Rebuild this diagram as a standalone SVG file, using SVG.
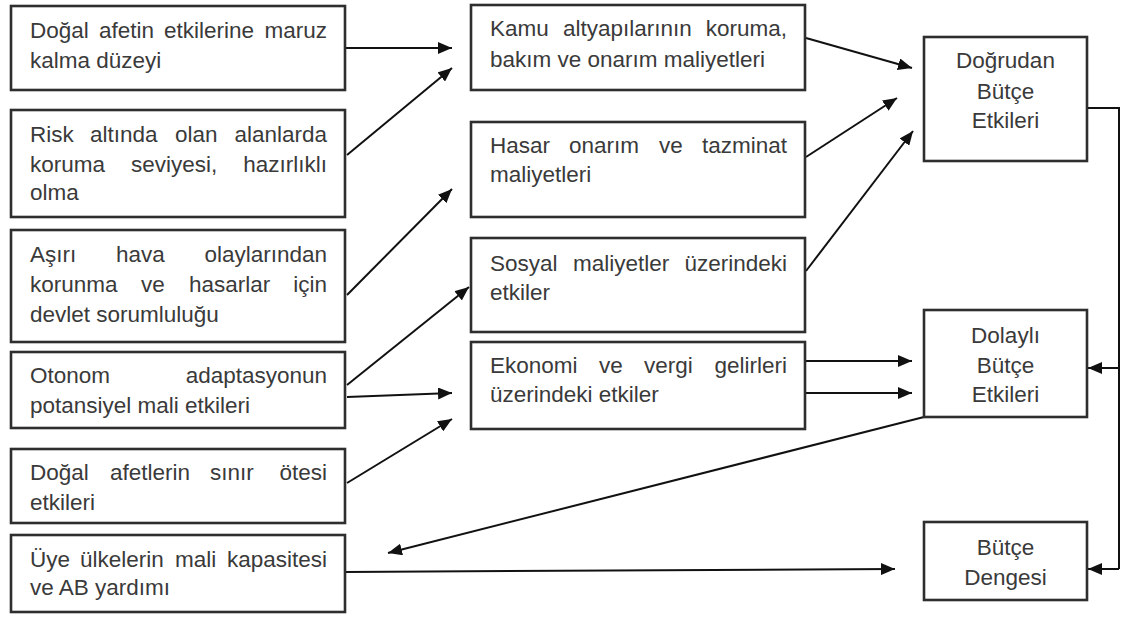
<svg xmlns="http://www.w3.org/2000/svg" width="1121" height="617" viewBox="0 0 1121 617">
<style>
.box{fill:#fff;stroke:#2e2e2e;stroke-width:2.6}
.t{font-family:"Liberation Sans",Arial,sans-serif;font-size:22.5px;fill:#3a3a3a}
.c{text-anchor:middle}
.e{text-anchor:end}
.ln{fill:none;stroke:#111;stroke-width:2}
</style>
<defs>
<marker id="ah" markerUnits="userSpaceOnUse" markerWidth="15" markerHeight="12" refX="14" refY="6" orient="auto">
<path d="M0,0 L14,6 L0,12 z" fill="#111"/>
</marker>
</defs>
<rect width="1121" height="617" fill="#fff"/>

<g id="connectors">
<line class="ln" x1="345" y1="48" x2="452" y2="48" marker-end="url(#ah)"/>
<line class="ln" x1="347" y1="155" x2="452" y2="68" marker-end="url(#ah)"/>
<line class="ln" x1="347" y1="295" x2="452" y2="189" marker-end="url(#ah)"/>
<line class="ln" x1="347" y1="385" x2="469" y2="287" marker-end="url(#ah)"/>
<line class="ln" x1="347" y1="397" x2="452" y2="393" marker-end="url(#ah)"/>
<line class="ln" x1="347" y1="483" x2="452" y2="419" marker-end="url(#ah)"/>
<line class="ln" x1="806" y1="38" x2="912" y2="68" marker-end="url(#ah)"/>
<line class="ln" x1="806" y1="157" x2="897" y2="98" marker-end="url(#ah)"/>
<line class="ln" x1="806" y1="271" x2="913" y2="131" marker-end="url(#ah)"/>
<line class="ln" x1="806" y1="361" x2="912" y2="361" marker-end="url(#ah)"/>
<line class="ln" x1="806" y1="393" x2="912" y2="393" marker-end="url(#ah)"/>
<line class="ln" x1="924" y1="417" x2="388" y2="553" marker-end="url(#ah)"/>
<line class="ln" x1="345" y1="572" x2="895" y2="569" marker-end="url(#ah)"/>
<path class="ln" d="M1087,108 H1119 V569"/>
<line class="ln" x1="1119" y1="368" x2="1088" y2="368" marker-end="url(#ah)"/>
<line class="ln" x1="1119" y1="569" x2="1088" y2="569" marker-end="url(#ah)"/>
</g>

<g id="n-maruz">
<rect class="box" x="11" y="6" width="334" height="84"/>
<text class="t" y="38"><tspan x="30">Doğal</tspan><tspan x="99">afetin</tspan><tspan x="164">etkilerine</tspan><tspan x="327" class="e">maruz</tspan></text>
<text class="t" x="30" y="68">kalma düzeyi</text>
</g>

<g id="n-koruma">
<rect class="box" x="11" y="110" width="334" height="107"/>
<text class="t" y="142"><tspan x="30">Risk</tspan><tspan x="90">altında</tspan><tspan x="175">olan</tspan><tspan x="327" class="e">alanlarda</tspan></text>
<text class="t" y="172"><tspan x="30">koruma</tspan><tspan x="131">seviyesi,</tspan><tspan x="327" class="e">hazırlıklı</tspan></text>
<text class="t" x="30" y="200">olma</text>
</g>

<g id="n-devlet">
<rect class="box" x="11" y="230" width="334" height="112"/>
<text class="t" y="262"><tspan x="30">Aşırı</tspan><tspan x="116">hava</tspan><tspan x="327" class="e">olaylarından</tspan></text>
<text class="t" y="292"><tspan x="30">korunma</tspan><tspan x="141">ve</tspan><tspan x="189">hasarlar</tspan><tspan x="327" class="e">için</tspan></text>
<text class="t" x="30" y="322">devlet sorumluluğu</text>
</g>

<g id="n-otonom">
<rect class="box" x="11" y="352" width="334" height="76"/>
<text class="t" y="383"><tspan x="30">Otonom</tspan><tspan x="327" class="e">adaptasyonun</tspan></text>
<text class="t" x="30" y="413">potansiyel mali etkileri</text>
</g>

<g id="n-sinir">
<rect class="box" x="11" y="449" width="334" height="74"/>
<text class="t" y="480"><tspan x="30">Doğal</tspan><tspan x="110">afetlerin</tspan><tspan x="210">sınır</tspan><tspan x="327" class="e">ötesi</tspan></text>
<text class="t" x="30" y="510">etkileri</text>
</g>

<g id="n-uye">
<rect class="box" x="11" y="535" width="334" height="77"/>
<text class="t" y="567"><tspan x="30">Üye</tspan><tspan x="80">ülkelerin</tspan><tspan x="175">mali</tspan><tspan x="327" class="e">kapasitesi</tspan></text>
<text class="t" x="30" y="595">ve AB yardımı</text>
</g>

<g id="n-kamu">
<rect class="box" x="471" y="5" width="334" height="85"/>
<text class="t" y="36"><tspan x="490">Kamu</tspan><tspan x="563">altyapılarının</tspan><tspan x="787" class="e">koruma,</tspan></text>
<text class="t" x="490" y="67">bakım ve onarım maliyetleri</text>
</g>

<g id="n-hasar">
<rect class="box" x="471" y="122" width="334" height="95"/>
<text class="t" y="153"><tspan x="490">Hasar</tspan><tspan x="569">onarım</tspan><tspan x="659">ve</tspan><tspan x="787" class="e">tazminat</tspan></text>
<text class="t" x="490" y="182">maliyetleri</text>
</g>

<g id="n-sosyal">
<rect class="box" x="471" y="238" width="334" height="94"/>
<text class="t" y="271"><tspan x="490">Sosyal</tspan><tspan x="573">maliyetler</tspan><tspan x="787" class="e">üzerindeki</tspan></text>
<text class="t" x="490" y="300">etkiler</text>
</g>

<g id="n-ekonomi">
<rect class="box" x="471" y="342" width="334" height="87"/>
<text class="t" y="373"><tspan x="490">Ekonomi</tspan><tspan x="599">ve</tspan><tspan x="644">vergi</tspan><tspan x="787" class="e">gelirleri</tspan></text>
<text class="t" x="490" y="402">üzerindeki etkiler</text>
</g>

<g id="n-dogrudan">
<rect class="box" x="924" y="37" width="163" height="124"/>
<text class="t c" x="1005.5" y="68">Doğrudan</text>
<text class="t c" x="1005.5" y="99">Bütçe</text>
<text class="t c" x="1005.5" y="128">Etkileri</text>
</g>

<g id="n-dolayli">
<rect class="box" x="924" y="310" width="163" height="107"/>
<text class="t c" x="1005.5" y="343">Dolaylı</text>
<text class="t c" x="1005.5" y="373">Bütçe</text>
<text class="t c" x="1005.5" y="402">Etkileri</text>
</g>

<g id="n-denge">
<rect class="box" x="924" y="522" width="163" height="78"/>
<text class="t c" x="1005.5" y="555">Bütçe</text>
<text class="t c" x="1005.5" y="585">Dengesi</text>
</g>
</svg>
